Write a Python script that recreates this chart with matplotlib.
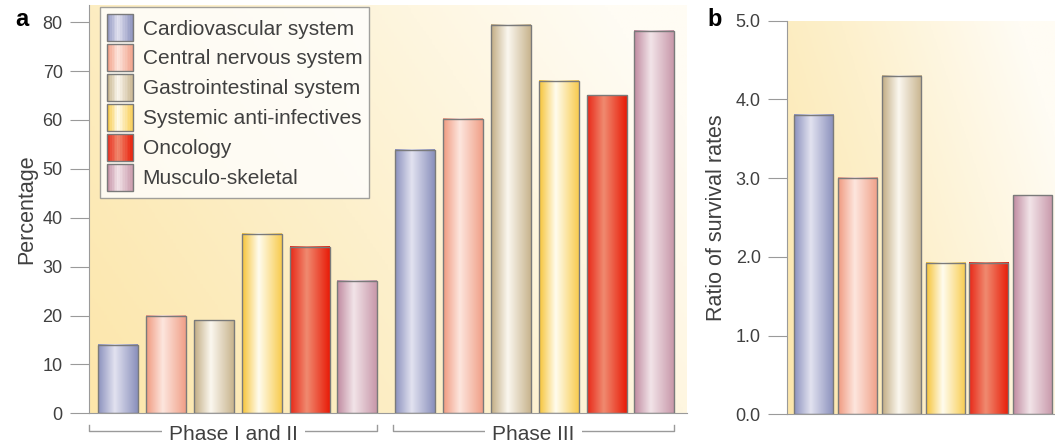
import numpy as np
import matplotlib
matplotlib.use('Agg')
import matplotlib.pyplot as plt
from matplotlib.colors import LinearSegmentedColormap
from matplotlib.patches import Patch, Rectangle
from matplotlib.legend_handler import HandlerBase
from matplotlib.transforms import blended_transform_factory

plt.rcParams['font.family'] = ['Liberation Sans', 'DejaVu Sans']

categories = ['Cardiovascular system', 'Central nervous system', 'Gastrointestinal system',
              'Systemic anti-infectives', 'Oncology', 'Musculo-skeletal']
phase12 = [14, 20, 19, 36.7, 34, 27]
phase3 = [53.8, 60.2, 79.5, 68, 65, 78.2]
ratio = [3.8, 3.0, 4.3, 1.92, 1.92, 2.78]
groups = ['Phase I and II', 'Phase III']

# left edge / light centre / right edge of each bar gradient
shades = [('#8c92be', '#e2e2f0', '#8a90bc'),
          ('#f09a80', '#fde6de', '#f0a088'),
          ('#c2ad84', '#fbf7ef', '#c8b48e'),
          ('#f6c438', '#fffcee', '#f8cc50'),
          ('#e82818', '#f08a70', '#e81c08'),
          ('#c08aa0', '#f2e4e8', '#c898aa')]

txt = '#404040'
grey = '#9a9a9a'
cmaps = [LinearSegmentedColormap.from_list('g%d' % i, [(0, s[0]), (0.42, s[1]), (1, s[2])])
         for i, s in enumerate(shades)]


class GradHandler(HandlerBase):
    def create_artists(self, legend, orig, xd, yd, width, height, fontsize, trans):
        cm = orig.cmap
        k = 16
        arts = []
        for j in range(k):
            arts.append(Rectangle((-xd + width * j / k, -yd), width / k + 0.3, height,
                                  facecolor=cm((j + 0.5) / k), edgecolor='none', transform=trans))
        arts.append(Rectangle((-xd, -yd), width, height, facecolor='none',
                              edgecolor='#7a7a7a', lw=1, transform=trans))
        return arts


def background(ax):
    xx, yy = np.meshgrid(np.linspace(0, 1, 200), np.linspace(0, 1, 200))
    t = np.clip(0.75 * xx + 0.35 * yy, 0, 1)
    cm = LinearSegmentedColormap.from_list('bg', ['#fce6aa', '#fdf0cc', '#fffcf4'])
    ax.imshow(t, cmap=cm, extent=(0, 1, 0, 1), transform=ax.transAxes,
              origin='lower', aspect='auto', zorder=0, vmin=0, vmax=1)


def shaded_bars(ax, x, h, w):
    bars = ax.bar(x, h, w, facecolor='none', edgecolor='#7a7a7a', lw=1, zorder=3)
    grad = np.linspace(0, 1, 100).reshape(1, -1)
    for b, cm in zip(bars, cmaps):
        ax.imshow(grad, cmap=cm, extent=(b.get_x(), b.get_x() + b.get_width(), 0, b.get_height()),
                  aspect='auto', zorder=2, origin='lower')
    return bars


def style(ax):
    for sp in ['top', 'right']:
        ax.spines[sp].set_visible(False)
    ax.spines['left'].set_color(grey)
    ax.spines['bottom'].set_color(grey)
    ax.tick_params(axis='y', length=14, color=grey, labelcolor=txt, labelsize=13, pad=5)
    ax.tick_params(axis='x', length=0, labelbottom=False)


fig = plt.figure(figsize=(10.55, 4.46), dpi=100)

# panel a
axa = fig.add_axes([0.0844, 0.0733, 0.5668, 0.9155])
background(axa)
n = len(categories)
xa1 = np.arange(n)
xa2 = np.arange(n) + 6.2
w = 0.835
shaded_bars(axa, xa1, phase12, w)
shaded_bars(axa, xa2, phase3, w)
axa.set_xlim(-0.605, 11.88)
axa.set_ylim(0, 83.5)
axa.set_yticks(np.arange(0, 81, 10))
style(axa)
axa.set_ylabel('Percentage', fontsize=15.5, color=txt, labelpad=4)

handles = []
for cm in cmaps:
    p = Patch()
    p.cmap = cm
    handles.append(p)
leg = axa.legend(handles, categories, loc='upper left', bbox_to_anchor=(0.018, 0.995),
                 handler_map={Patch: GradHandler()},
                 fontsize=15, frameon=True, fancybox=False, edgecolor='#8a8a8a',
                 handlelength=1.25, handleheight=1.6, labelspacing=0.15, handletextpad=0.45,
                 borderpad=0.35, borderaxespad=0)
leg.get_frame().set_linewidth(1)
for t in leg.get_texts():
    t.set_color(txt)
leg.set_zorder(5)

# group brackets under panel a
tr = blended_transform_factory(axa.transData, fig.transFigure)
yb = (446 - 431) / 446
ytop = (446 - 425) / 446
for (x0, x1), lab in zip([(-0.6, xa1[-1] + w / 2), (xa2[0] - w / 2 - 0.05, xa2[-1] + w / 2)], groups):
    axa.plot([x0, x0, x1, x1], [ytop, yb, yb, ytop], color=grey, lw=1, transform=tr, clip_on=False)
    axa.text((x0 + x1) / 2, (446 - 434) / 446, lab, transform=tr, ha='center', va='center',
             fontsize=15, color=txt, bbox=dict(facecolor='white', edgecolor='none', pad=5))

fig.text(15 / 1055, (446 - 20) / 446, 'a', fontsize=17, fontweight='bold', ha='left', va='center')

# panel b
axb = fig.add_axes([0.746, 0.0711, 0.254, 0.8825])
background(axb)
xb = np.arange(n)
shaded_bars(axb, xb, ratio, 0.89)
axb.set_xlim(-0.605, 5.51)
axb.set_ylim(0, 5)
axb.set_yticks(np.arange(0, 5.1, 1))
axb.set_yticklabels(['%.1f' % v for v in np.arange(0, 5.1, 1)])
style(axb)
axb.set_ylabel('Ratio of survival rates', fontsize=15.5, color=txt, labelpad=6)

fig.text(707 / 1055, (446 - 19) / 446, 'b', fontsize=17, fontweight='bold', ha='left', va='center')

fig.savefig('out.png', dpi=100)
